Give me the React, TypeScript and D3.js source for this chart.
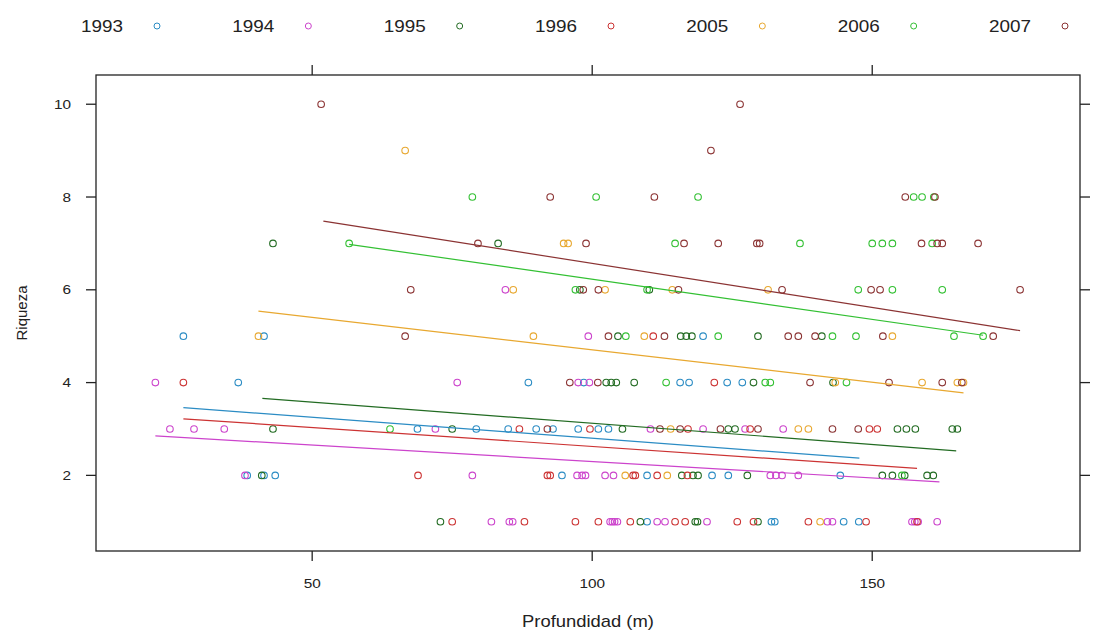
import React from "react";
import * as d3 from "d3";

const years = ["1993", "1994", "1995", "1996", "2005", "2006", "2007"];
const colors = ["#2b8cc4", "#cc44cc", "#226b22", "#cc3333", "#e8a830", "#33c033", "#8b3333"];

// [profundidad, riqueza]
const d1993: [number, number][] = [
  [27, 5], [41.4, 5], [119.8, 5],
  [36.8, 4], [88.6, 4], [98.5, 4], [115.7, 4], [117.3, 4], [124.1, 4], [126.8, 4],
  [68.8, 3], [79.3, 3], [85, 3], [90, 3], [93, 3], [97.5, 3], [101.1, 3], [102.9, 3],
  [38.4, 2], [41.4, 2], [43.4, 2], [94.6, 2], [109.8, 2], [121.4, 2], [124.3, 2], [144.3, 2],
  [109.8, 1], [132, 1], [132.6, 1], [144.9, 1], [147.6, 1],
];
const d1994: [number, number][] = [
  [84.5, 6], [99.3, 5],
  [22, 4], [75.9, 4], [97.5, 4], [99.5, 4],
  [24.6, 3], [28.9, 3], [34.3, 3], [72, 3], [110.4, 3], [119.8, 3], [127.3, 3], [134.1, 3],
  [38, 2], [78.6, 2], [97.3, 2], [98.2, 2], [98.8, 2], [102.3, 2], [103.8, 2], [131.8, 2], [132.8, 2], [133.9, 2], [136.8, 2],
  [82, 1], [85.2, 1], [85.8, 1], [103.2, 1], [103.6, 1], [104, 1], [104.5, 1], [111.6, 1], [113, 1], [120.5, 1],
  [142, 1], [142.9, 1], [157.1, 1], [157.6, 1], [158.2, 1], [161.6, 1],
];
const d1995: [number, number][] = [
  [43, 7], [83.2, 7], [97.8, 6], [110.2, 6],
  [104.6, 5], [115.8, 5], [116.8, 5], [117.8, 5], [129.6, 5], [141, 5],
  [102.5, 4], [103.4, 4], [104.3, 4], [107.5, 4], [128.8, 4], [143, 4],
  [43, 3], [75, 3], [105.4, 3], [124.3, 3], [125.5, 3], [154.5, 3], [156.1, 3], [157.7, 3], [164.3, 3], [165.2, 3],
  [41, 2], [116, 2], [118, 2], [118.9, 2], [127.7, 2], [151.8, 2], [153.6, 2], [155.8, 2], [159.8, 2], [160.9, 2],
  [72.9, 1], [108.6, 1], [118.4, 1], [118.8, 1], [129.6, 1],
];
const d1996: [number, number][] = [
  [110.9, 5], [27, 4], [121.8, 4],
  [87, 3], [99.6, 3], [117.1, 3], [128.2, 3], [149.5, 3], [150.9, 3],
  [68.9, 2], [92, 2], [92.5, 2], [107.3, 2], [107.7, 2], [111.6, 2], [117, 2],
  [75, 1], [87.9, 1], [97, 1], [101.1, 1], [106.8, 1], [114.8, 1], [116.6, 1], [125.9, 1], [128.8, 1], [138.6, 1], [148.9, 1], [158, 1],
];
const d2005: [number, number][] = [
  [66.6, 9], [94.9, 7], [95.7, 7],
  [85.9, 6], [102.3, 6], [114.3, 6], [131.4, 6],
  [40.4, 5], [89.5, 5], [109.3, 5], [153.6, 5],
  [143.4, 4], [158.9, 4], [165.2, 4], [166.3, 4],
  [114, 3], [136.8, 3], [138.6, 3], [105.9, 2], [113.4, 2], [140.7, 1],
];
const d2006: [number, number][] = [
  [78.6, 8], [100.7, 8], [118.9, 8], [157.4, 8], [158.9, 8], [161, 8],
  [56.6, 7], [114.8, 7], [137.1, 7], [150, 7], [151.8, 7], [153.6, 7], [160.7, 7],
  [97, 6], [109.8, 6], [147.5, 6], [153.6, 6], [162.5, 6],
  [106, 5], [122.5, 5], [142.9, 5], [147.1, 5], [164.6, 5], [169.8, 5],
  [113.2, 4], [130.9, 4], [131.8, 4], [145.4, 4], [63.9, 3], [155.3, 2],
];
const d2007: [number, number][] = [
  [51.6, 10], [126.4, 10], [121.2, 9],
  [92.5, 8], [111.1, 8], [155.9, 8], [161.2, 8],
  [79.6, 7], [98.9, 7], [116.4, 7], [122.5, 7], [129.4, 7], [129.9, 7], [158.8, 7], [161.6, 7], [162.5, 7], [168.9, 7],
  [67.6, 6], [98.4, 6], [101.1, 6], [115.4, 6], [133.9, 6], [149.8, 6], [151.4, 6], [176.4, 6],
  [66.6, 5], [102.9, 5], [112.9, 5], [135, 5], [136.8, 5], [139.8, 5], [151.9, 5], [171.6, 5],
  [96, 4], [101, 4], [138.9, 4], [153, 4], [162.5, 4], [166, 4],
  [92, 3], [112.1, 3], [115.7, 3], [122.9, 3], [129.6, 3], [142.9, 3], [147.5, 3],
];
const series = [d1993, d1994, d1995, d1996, d2005, d2006, d2007];

// fitted regression lines: [x0, y0, x1, y1]
const fits: [number, number, number, number][] = [
  [27, 3.46, 147.7, 2.37],
  [22, 2.85, 162, 1.86],
  [41.1, 3.66, 165, 2.53],
  [27, 3.22, 158, 2.15],
  [40.4, 5.54, 166.3, 3.78],
  [56.6, 6.98, 169.8, 5.02],
  [52, 7.48, 176.4, 5.12],
];

const xTicks = [50, 100, 150];
const yTicks = [2, 4, 6, 8, 10];

export default function App() {
  const W = 1096, H = 633;
  const L = 96, R = 1080, T = 75, B = 551;
  const x = d3.scaleLinear().domain([11.4, 187.1]).range([L, R]);
  const y = d3.scaleLinear().domain([0.37, 10.63]).range([B, T]);
  const line = d3.line<[number, number]>().x((d) => x(d[0])).y((d) => y(d[1]));
  const font = "Liberation Sans, Arial, sans-serif";
  const tk = 10;
  const sx = 1.18;
  const legendStep = (1065 - 157) / (years.length - 1);
  return (
    <svg width={W} height={H} style={{ position: "absolute", left: 0, top: 0, background: "#fff" }} fontFamily={font}>
      <rect x={0} y={0} width={W} height={H} fill="#fff" />
      {/* legend */}
      {years.map((yr, i) => {
        const dx = 157 + i * legendStep;
        return (
          <g key={yr}>
            <text transform={`translate(${dx - 55},26) scale(${sx},1)`} dy="0.35em" textAnchor="middle" fontSize={16} fill="#222">{yr}</text>
            <circle cx={dx} cy={26} r={3} fill="none" stroke={colors[i]} strokeWidth={1} />
          </g>
        );
      })}
      {/* frame */}
      <rect x={L} y={T} width={R - L} height={B - T} fill="none" stroke="#222" strokeWidth={1.3} />
      {xTicks.map((t) => (
        <g key={"x" + t}>
          <line x1={x(t)} x2={x(t)} y1={B} y2={B + tk} stroke="#222" strokeWidth={1.3} />
          <line x1={x(t)} x2={x(t)} y1={T} y2={T - tk} stroke="#222" strokeWidth={1.3} />
          <text transform={`translate(${x(t)},${B + 32}) scale(${sx},1)`} dy="0.35em" textAnchor="middle" fontSize={13} fill="#222">{t}</text>
        </g>
      ))}
      {yTicks.map((t) => (
        <g key={"y" + t}>
          <line x1={L} x2={L - tk} y1={y(t)} y2={y(t)} stroke="#222" strokeWidth={1.3} />
          <line x1={R} x2={R + tk} y1={y(t)} y2={y(t)} stroke="#222" strokeWidth={1.3} />
          <text transform={`translate(${L - 25},${y(t)}) scale(${sx},1)`} dy="0.35em" textAnchor="end" fontSize={13} fill="#222">{t}</text>
        </g>
      ))}
      <text transform={`translate(${(L + R) / 2},621) scale(1.15,1)`} dy="0.35em" textAnchor="middle" fontSize={16} fill="#222">Profundidad (m)</text>
      <text transform={`translate(22,${(T + B) / 2}) rotate(-90)`} dy="0.35em" textAnchor="middle" fontSize={15} fill="#222">Riqueza</text>
      {/* points */}
      {series.map((s, i) => (
        <g key={"s" + i}>
          {s.map((d, j) => (
            <circle key={j} cx={x(d[0])} cy={y(d[1])} r={3.3} fill="none" stroke={colors[i]} strokeWidth={1.1} />
          ))}
        </g>
      ))}
      {/* regression lines */}
      {fits.map((f, i) => (
        <path key={"f" + i} d={line([[f[0], f[1]], [f[2], f[3]]]) || ""} stroke={colors[i]} strokeWidth={1.2} fill="none" />
      ))}
    </svg>
  );
}
